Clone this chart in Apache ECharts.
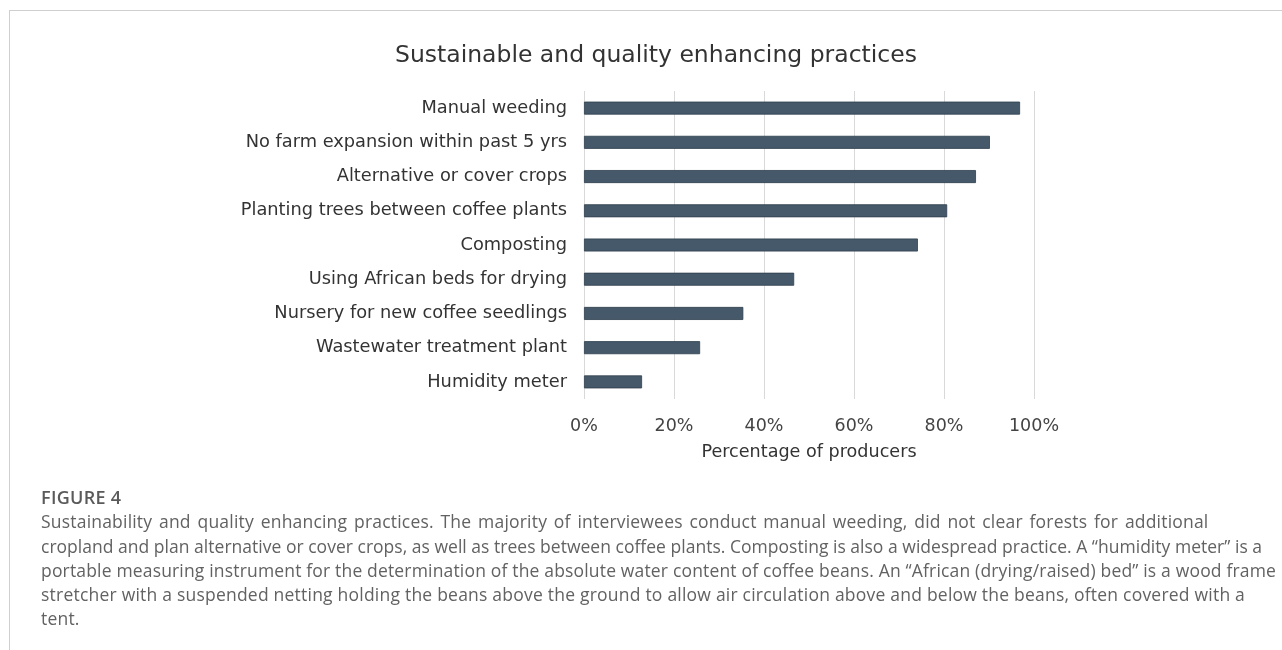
<!DOCTYPE html>
<html>
<head>
<meta charset="utf-8">
<script src="https://cdn.jsdelivr.net/npm/echarts@6/dist/echarts.min.js"></script>
<style>
  html, body { margin: 0; padding: 0; background: #fff; }
  #frame {
    position: absolute; left: 9px; top: 10px; width: 1273px; height: 640px;
    border-left: 1px solid #cfcfcf; border-top: 1px solid #cfcfcf;
  }
  #chart { position: absolute; left: 0; top: 0; width: 1282px; height: 650px; }
  #caption {
    position: absolute; left: 41px; top: 485px; width: 1240px;
    font-family: "Open Sans", sans-serif; font-size: 17.5px; line-height: 24.3px;
    letter-spacing: 0.2px; color: #626262; white-space: nowrap;
  }
  #caption .fig { font-size: 18px; font-weight: 600; color: #5a5a5a; letter-spacing: 0.3px; }
  #caption .l1 { word-spacing: 2px; }
  #caption .l2 { letter-spacing: 0.02px; }
  #caption .l3 { letter-spacing: 0.17px; }
  #caption .l4 { letter-spacing: 0.22px; }
</style>
</head>
<body>
<div id="frame"></div>
<div id="chart"></div>
<div id="caption">
  <div class="fig">FIGURE 4</div>
  <div class="l1">Sustainability and quality enhancing practices. The majority of interviewees conduct manual weeding, did not clear forests for additional</div>
  <div class="l2">cropland and plan alternative or cover crops, as well as trees between coffee plants. Composting is also a widespread practice. A “humidity meter” is a</div>
  <div class="l3">portable measuring instrument for the determination of the absolute water content of coffee beans. An “African (drying/raised) bed” is a wood frame</div>
  <div class="l4">stretcher with a suspended netting holding the beans above the ground to allow air circulation above and below the beans, often covered with a</div>
  <div>tent.</div>
</div>
<script>
// ---- DATA ----
const practices = [
  'Manual weeding',
  'No farm expansion within past 5 yrs',
  'Alternative or cover crops',
  'Planting trees between coffee plants',
  'Composting',
  'Using African beds for drying',
  'Nursery for new coffee seedlings',
  'Wastewater treatment plant',
  'Humidity meter'
];
const shares = [96.9, 90.2, 87.1, 80.7, 74.2, 46.7, 35.4, 25.8, 12.9];
const tickValues = [0, 20, 40, 60, 80, 100];

// ---- CHART ----
const chart = echarts.init(document.getElementById('chart'), null, { renderer: 'canvas' });
const font = 'DejaVu Sans, Verdana, sans-serif';

chart.setOption({
  animation: false,
  backgroundColor: 'transparent',
  title: {
    text: 'Sustainable and quality enhancing practices',
    left: 390, top: 39,
    textStyle: { fontFamily: font, fontSize: 23.5, fontWeight: 'normal', color: '#333' }
  },
  grid: { left: 584, right: 248, top: 91, bottom: 251, containLabel: false },
  xAxis: {
    type: 'value',
    min: tickValues[0],
    max: tickValues[tickValues.length - 1],
    interval: 20,
    axisLine: { show: false },
    axisTick: { show: false },
    splitLine: { lineStyle: { color: '#d9d9d9', width: 1 } },
    axisLabel: {
      formatter: '{value}%', margin: 18,
      fontFamily: font, fontSize: 17.5, color: '#444'
    },
    name: 'Percentage of producers',
    nameLocation: 'middle',
    nameGap: 44,
    nameTextStyle: { fontFamily: font, fontSize: 17.6, color: '#333' }
  },
  yAxis: {
    type: 'category',
    data: practices,
    inverse: true,
    axisLine: { show: false },
    axisTick: { show: false },
    axisLabel: { margin: 17, fontFamily: font, fontSize: 17.8, color: '#333' }
  },
  series: [{
    type: 'bar',
    data: shares,
    barWidth: 13,
    itemStyle: { color: '#45596a', borderColor: '#2e3f4c', borderWidth: 0.8 }
  }]
});
</script>
</body>
</html>
